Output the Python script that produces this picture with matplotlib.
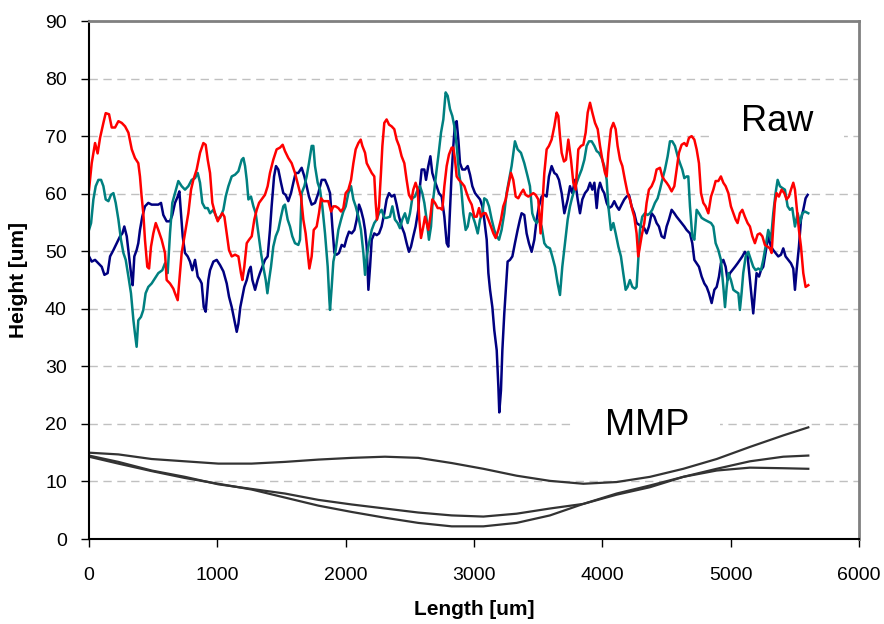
import matplotlib
matplotlib.use('Agg')
import matplotlib.pyplot as plt

# ---------------------------------------------------------------
# Raw surface profiles
# ---------------------------------------------------------------
red_x = [0, 21, 47, 67, 86, 112, 130, 156, 177, 203, 229, 255, 281, 307, 333, 358, 384, 397, 410,
         423, 436, 454, 468, 483, 501, 520, 540, 566, 592, 605, 631, 657, 670, 691, 709, 722, 748,
         774, 795, 813, 839, 865, 891, 909, 925, 943, 961, 982, 1003, 1021, 1039, 1055, 1073, 1091,
         1112, 1138, 1164, 1184, 1195, 1210, 1229, 1247, 1268, 1288, 1307, 1325, 1345, 1371, 1392,
         1410, 1436, 1462, 1488, 1509, 1527, 1553, 1579, 1605, 1631, 1652, 1670, 1688, 1704, 1717,
         1735, 1751, 1774, 1792, 1808, 1826, 1852, 1865, 1886, 1904, 1922, 1943, 1964, 1982, 2000,
         2021, 2042, 2060, 2078, 2099, 2117, 2130, 2151, 2164, 2182, 2203, 2223, 2234, 2244, 2260,
         2275, 2286, 2301, 2319, 2338, 2358, 2379, 2397, 2416, 2436, 2457, 2475, 2493, 2514, 2527,
         2545, 2561, 2574, 2587, 2605, 2618, 2631, 2644, 2660, 2675, 2696, 2717, 2735, 2753, 2769,
         2787, 2805, 2826, 2839, 2852, 2865, 2883, 2904, 2925, 2943, 2961, 2982, 3003, 3021, 3039,
         3054, 3073, 3091, 3112, 3132, 3151, 3169, 3190, 3210, 3228, 3247, 3267, 3288, 3306, 3325,
         3345, 3366, 3384, 3402, 3423, 3444, 3462, 3480, 3501, 3519, 3532, 3548, 3566, 3584, 3605,
         3626, 3644, 3657, 3670, 3683, 3701, 3717, 3735, 3756, 3774, 3792, 3813, 3834, 3852, 3870,
         3886, 3904, 3922, 3943, 3964, 3982, 4000, 4021, 4034, 4047, 4067, 4086, 4104, 4119, 4138,
         4156, 4176, 4197, 4215, 4234, 4249, 4267, 4280, 4293, 4306, 4327, 4345, 4363, 4384, 4405,
         4423, 4449, 4467, 4483, 4501, 4519, 4540, 4561, 4579, 4597, 4618, 4639, 4657, 4675, 4696,
         4717, 4735, 4753, 4769, 4787, 4805, 4826, 4847, 4865, 4883, 4904, 4924, 4943, 4961, 4982,
         5002, 5021, 5039, 5054, 5072, 5091, 5111, 5132, 5150, 5169, 5189, 5210, 5228, 5247, 5267,
         5288, 5306, 5319, 5332, 5345, 5358, 5376, 5397, 5418, 5436, 5454, 5470, 5488, 5501, 5514,
         5532, 5548, 5566, 5584, 5605]
red_y = [60.7, 65.3, 68.8, 67.0, 69.7, 72.3, 74.0, 73.8, 71.5, 71.5, 72.6, 72.3, 71.7, 70.6, 67.7,
         66.2, 65.3, 63.0, 59.5, 56.6, 52.0, 47.3, 47.0, 50.8, 53.1, 54.9, 53.7, 52.0, 49.7, 45.0,
         44.4, 43.5, 42.7, 41.5, 46.2, 49.7, 53.1, 56.6, 60.7, 62.4, 64.2, 67.1, 68.8, 68.5, 65.9,
         63.6, 58.4, 56.6, 55.2, 56.0, 56.6, 56.0, 53.1, 50.2, 49.1, 49.4, 49.1, 46.2, 45.0, 47.3,
         51.4, 52.0, 52.6, 55.5, 57.2, 58.4, 59.0, 59.8, 61.3, 63.6, 65.9, 67.7, 68.0, 68.5, 67.4,
         66.2, 65.3, 63.6, 61.3, 59.5, 55.5, 53.1, 49.7, 47.0, 49.1, 53.7, 54.3, 56.6, 59.2, 58.7,
         58.7, 58.7, 56.9, 57.8, 57.8, 57.5, 56.9, 57.5, 60.1, 60.7, 62.4, 65.3, 67.7, 68.8, 69.4,
         68.3, 67.1, 65.3, 64.5, 63.6, 63.0, 58.4, 55.5, 57.8, 63.6, 68.3, 72.3, 72.9, 72.0, 71.7,
         71.2, 69.4, 68.3, 66.5, 65.3, 62.4, 59.8, 59.0, 60.7, 61.9, 60.7, 55.5, 52.3, 54.3, 56.0,
         54.9, 53.7, 56.0, 59.0, 58.4, 57.5, 57.5, 57.2, 61.3, 64.8, 66.8, 68.0, 68.0, 65.9, 63.0,
         62.4, 61.9, 61.3, 60.1, 59.0, 58.1, 56.0, 56.0, 57.5, 56.0, 56.6, 56.6, 55.5, 54.3, 53.1,
         52.3, 53.7, 55.5, 57.8, 59.0, 61.3, 63.6, 62.4, 59.5, 59.2, 60.1, 60.7, 59.8, 59.5, 59.8,
         60.1, 59.8, 59.0, 53.1, 57.8, 63.6, 67.7, 68.3, 69.4, 71.7, 74.1, 73.5, 70.0, 67.1, 65.6,
         65.9, 69.4, 65.9, 61.9, 60.7, 67.7, 68.3, 68.5, 70.6, 74.1, 75.8, 74.1, 72.3, 71.2, 68.3,
         65.9, 63.6, 63.0, 67.1, 71.2, 72.3, 71.2, 68.3, 65.9, 64.8, 62.4, 60.1, 59.0, 57.2, 56.0,
         53.1, 49.1, 50.8, 52.6, 54.9, 58.4, 60.7, 61.3, 62.4, 64.2, 64.5, 63.0, 62.4, 61.9, 61.3,
         60.4, 61.3, 64.2, 67.1, 68.5, 68.8, 68.3, 69.7, 70.0, 69.4, 67.7, 65.3, 60.1, 58.4, 57.8,
         56.6, 59.5, 60.7, 62.2, 62.2, 63.0, 61.9, 61.3, 60.1, 57.8, 56.6, 55.5, 54.9, 56.6, 57.2,
         56.0, 54.9, 54.3, 52.6, 51.4, 52.9, 53.1, 52.6, 51.1, 50.8, 50.5, 49.7, 54.3, 58.4, 60.1,
         59.5, 60.7, 60.1, 59.0, 59.5, 60.7, 61.9, 60.7, 57.8, 53.7, 50.8, 46.2, 43.8, 44.1]

teal_x = [0, 16, 34, 52, 73, 94, 112, 130, 151, 171, 190, 208, 229, 249, 268, 286, 307, 327, 346,
          358, 371, 384, 405, 423, 441, 462, 488, 514, 540, 571, 592, 613, 631, 649, 670, 696, 722,
          748, 774, 800, 826, 847, 865, 883, 904, 925, 943, 969, 995, 1021, 1047, 1065, 1086, 1112,
          1138, 1164, 1190, 1203, 1216, 1229, 1242, 1262, 1281, 1299, 1320, 1340, 1358, 1377, 1390,
          1403, 1418, 1436, 1455, 1475, 1496, 1514, 1527, 1548, 1566, 1584, 1605, 1631, 1644, 1657,
          1678, 1696, 1714, 1735, 1748, 1761, 1782, 1800, 1818, 1839, 1860, 1873, 1878, 1891, 1904,
          1922, 1943, 1964, 1982, 2000, 2021, 2042, 2060, 2078, 2099, 2119, 2138, 2151, 2164, 2182,
          2203, 2223, 2242, 2260, 2280, 2301, 2319, 2345, 2364, 2384, 2405, 2423, 2441, 2462, 2483,
          2501, 2519, 2540, 2561, 2579, 2597, 2613, 2631, 2649, 2665, 2675, 2691, 2709, 2722, 2743,
          2761, 2779, 2795, 2813, 2831, 2847, 2865, 2883, 2899, 2917, 2935, 2951, 2969, 2987, 3008,
          3029, 3047, 3065, 3080, 3099, 3117, 3138, 3158, 3177, 3195, 3215, 3236, 3254, 3273, 3293,
          3319, 3340, 3366, 3392, 3418, 3436, 3454, 3470, 3488, 3506, 3527, 3548, 3566, 3592, 3610,
          3631, 3652, 3670, 3688, 3709, 3730, 3748, 3761, 3782, 3800, 3818, 3839, 3860, 3878, 3896,
          3917, 3938, 3956, 3974, 3995, 4015, 4034, 4047, 4067, 4086, 4104, 4125, 4145, 4163, 4182,
          4197, 4215, 4234, 4254, 4267, 4280, 4293, 4311, 4332, 4353, 4371, 4389, 4410, 4431, 4449,
          4467, 4488, 4509, 4527, 4545, 4566, 4587, 4605, 4623, 4639, 4657, 4670, 4683, 4701, 4717,
          4735, 4753, 4774, 4795, 4821, 4847, 4865, 4883, 4904, 4924, 4943, 4956, 4969, 4982, 5002,
          5021, 5039, 5060, 5072, 5085, 5098, 5117, 5137, 5158, 5176, 5195, 5215, 5236, 5254, 5272,
          5293, 5314, 5332, 5350, 5366, 5384, 5402, 5423, 5444, 5462, 5480, 5501, 5522, 5540, 5558,
          5579, 5605]
teal_y = [53.7, 54.9, 59.0, 61.3, 62.4, 62.4, 61.3, 59.0, 58.7, 59.8, 60.1, 58.4, 55.5, 52.0, 49.7,
          48.5, 45.6, 42.7, 38.0, 35.7, 33.4, 38.0, 38.6, 39.8, 42.7, 43.8, 44.4, 45.3, 46.2, 46.7,
          47.9, 46.2, 53.1, 58.4, 60.1, 62.2, 61.3, 60.7, 61.3, 62.4, 62.7, 63.6, 61.9, 58.4, 57.5,
          57.5, 56.6, 57.2, 55.8, 55.8, 57.2, 59.5, 61.3, 63.0, 63.3, 63.9, 65.9, 66.2, 64.8, 62.4,
          59.0, 59.5, 57.8, 56.6, 53.1, 49.7, 47.3, 45.0, 42.7, 45.0, 47.3, 50.8, 52.6, 53.7, 56.0,
          57.8, 58.1, 55.5, 54.3, 52.6, 51.4, 51.1, 52.0, 60.1, 61.3, 63.0, 65.3, 68.3, 68.3, 64.8,
          61.9, 60.7, 57.8, 53.1, 47.3, 41.5, 39.8, 43.8, 48.2, 50.2, 53.7, 55.5, 56.9, 57.8, 60.1,
          61.3, 59.0, 57.8, 56.0, 53.7, 49.7, 45.9, 49.1, 51.4, 53.7, 54.9, 55.5, 56.6, 57.2, 55.8,
          55.8, 56.0, 57.8, 55.5, 54.9, 54.0, 55.5, 56.6, 54.9, 56.6, 59.2, 59.5, 60.7, 61.3, 60.1,
          58.4, 55.5, 52.0, 54.3, 57.8, 60.7, 64.2, 66.5, 70.6, 72.9, 77.6, 77.0, 74.7, 73.5, 71.7,
          68.3, 63.6, 61.3, 56.6, 53.7, 54.3, 56.6, 56.3, 54.9, 53.1, 55.5, 56.6, 59.2, 58.9, 57.8,
          55.5, 53.7, 52.6, 52.0, 53.7, 56.6, 60.1, 62.4, 64.8, 69.1, 67.7, 67.1, 65.3, 63.0, 61.3,
          56.6, 55.5, 54.9, 55.5, 54.3, 51.4, 50.8, 50.5, 49.1, 47.3, 44.4, 42.4, 47.3, 51.4, 55.5,
          57.8, 59.0, 60.7, 61.9, 63.0, 64.2, 65.9, 68.3, 69.1, 69.1, 68.3, 67.4, 67.1, 66.2, 64.8,
          62.4, 57.8, 53.7, 54.9, 53.1, 50.8, 49.1, 46.2, 43.3, 43.8, 45.0, 43.8, 43.5, 43.8, 48.5,
          53.7, 56.0, 56.6, 56.3, 56.6, 57.2, 58.4, 59.2, 60.7, 62.4, 64.2, 66.5, 69.1, 69.1, 68.3,
          66.5, 65.3, 64.2, 62.7, 63.0, 63.0, 57.8, 52.6, 52.0, 57.2, 56.6, 55.8, 55.5, 55.2, 54.9,
          54.3, 51.4, 50.2, 48.5, 43.8, 40.3, 43.8, 46.2, 45.0, 43.3, 43.0, 42.7, 39.8, 42.7, 46.2,
          49.1, 49.9, 48.5, 47.3, 46.7, 47.0, 46.7, 48.5, 50.8, 53.7, 52.0, 56.6, 60.1, 62.4, 61.3,
          61.0, 60.7, 57.8, 57.2, 57.5, 54.3, 56.6, 54.9, 56.6, 56.9, 56.6]

navy_x = [0, 21, 47, 73, 99, 120, 145, 164, 190, 216, 242, 260, 275, 294, 312, 327, 340, 353, 371,
          384, 397, 415, 436, 462, 488, 514, 540, 561, 579, 605, 631, 649, 670, 691, 704, 717, 730,
          748, 769, 787, 805, 826, 847, 865, 878, 894, 909, 930, 943, 969, 995, 1021, 1047, 1073,
          1091, 1112, 1133, 1151, 1164, 1179, 1195, 1210, 1229, 1247, 1260, 1273, 1294, 1314, 1332,
          1351, 1371, 1392, 1410, 1423, 1442, 1457, 1475, 1496, 1514, 1532, 1553, 1574, 1592, 1610,
          1631, 1657, 1678, 1696, 1714, 1735, 1761, 1787, 1813, 1839, 1860, 1878, 1896, 1912, 1930,
          1948, 1969, 1990, 2008, 2026, 2047, 2068, 2086, 2104, 2119, 2138, 2151, 2164, 2177, 2190,
          2203, 2223, 2242, 2260, 2280, 2301, 2319, 2338, 2358, 2379, 2397, 2416, 2436, 2457, 2475,
          2493, 2509, 2527, 2545, 2566, 2579, 2592, 2613, 2626, 2644, 2660, 2675, 2691, 2709, 2727,
          2748, 2769, 2787, 2800, 2813, 2826, 2839, 2852, 2865, 2878, 2891, 2909, 2930, 2951, 2969,
          2987, 3008, 3029, 3047, 3065, 3080, 3099, 3112, 3125, 3143, 3158, 3177, 3190, 3197, 3210,
          3221, 3236, 3249, 3262, 3280, 3299, 3319, 3340, 3358, 3371, 3392, 3410, 3428, 3449, 3470,
          3488, 3506, 3527, 3548, 3566, 3584, 3605, 3626, 3644, 3662, 3683, 3704, 3730, 3748, 3766,
          3787, 3808, 3826, 3844, 3865, 3886, 3904, 3922, 3938, 3956, 3969, 3982, 4000, 4015, 4034,
          4052, 4073, 4093, 4112, 4130, 4150, 4171, 4189, 4208, 4228, 4249, 4267, 4286, 4306, 4327,
          4345, 4363, 4384, 4405, 4423, 4441, 4462, 4483, 4501, 4519, 4540, 4561, 4579, 4597, 4618,
          4639, 4657, 4683, 4701, 4717, 4735, 4753, 4774, 4795, 4813, 4831, 4852, 4873, 4891, 4909,
          4924, 4943, 4961, 4976, 4995, 5013, 5034, 5054, 5072, 5091, 5111, 5132, 5150, 5163, 5176,
          5189, 5202, 5221, 5236, 5254, 5272, 5293, 5314, 5332, 5350, 5371, 5392, 5410, 5428, 5449,
          5470, 5488, 5501, 5514, 5532, 5548, 5566, 5584, 5600]
navy_y = [49.1, 48.2, 48.5, 47.9, 47.3, 45.9, 46.2, 49.1, 50.2, 51.4, 52.6, 53.1, 54.3, 52.6, 49.1,
          46.2, 44.1, 49.1, 50.2, 51.4, 53.7, 56.0, 57.8, 58.4, 58.1, 58.1, 58.1, 58.4, 56.3, 55.2,
          55.2, 56.3, 58.4, 59.5, 60.4, 56.6, 52.6, 49.7, 49.1, 48.2, 46.7, 48.5, 45.6, 45.0, 44.4,
          40.3, 39.5, 45.0, 46.7, 48.2, 48.5, 47.6, 46.5, 44.4, 42.1, 40.3, 38.0, 36.0, 37.4, 40.3,
          42.1, 43.8, 45.0, 46.7, 47.3, 45.0, 43.3, 45.0, 46.2, 47.3, 48.5, 49.1, 53.7, 57.8, 63.0,
          64.8, 64.2, 61.9, 60.1, 59.8, 58.7, 60.1, 61.9, 63.6, 63.6, 64.5, 63.0, 61.3, 59.5, 58.1,
          58.4, 60.1, 62.4, 62.4, 61.3, 60.1, 54.3, 49.7, 49.4, 49.7, 51.1, 50.8, 52.3, 53.4, 53.1,
          53.7, 55.5, 58.1, 57.2, 55.5, 53.7, 50.8, 43.3, 47.3, 52.0, 53.1, 52.8, 53.1, 54.3, 56.6,
          59.0, 60.1, 59.5, 59.8, 58.1, 56.0, 54.3, 53.1, 51.4, 49.9, 50.8, 52.6, 54.3, 57.2, 61.3,
          64.2, 64.2, 62.4, 64.8, 66.5, 63.6, 62.4, 61.3, 60.1, 59.5, 56.0, 51.4, 50.8, 57.2, 63.6,
          68.3, 72.3, 72.6, 69.4, 65.3, 64.2, 64.2, 64.8, 63.3, 61.3, 60.1, 59.5, 59.0, 57.8, 55.5,
          52.0, 46.2, 43.3, 40.3, 36.3, 32.8, 26.4, 22.0, 25.8, 32.8, 39.2, 43.8, 48.2, 48.5, 49.1,
          51.4, 53.7, 55.5, 56.6, 56.3, 53.1, 51.4, 49.9, 52.0, 55.5, 57.8, 59.5, 59.8, 59.5, 63.0,
          64.8, 63.6, 63.3, 62.4, 60.1, 56.6, 59.0, 61.3, 60.1, 62.4, 59.0, 56.6, 59.0, 60.1, 60.7,
          61.9, 60.7, 61.9, 57.5, 60.7, 61.9, 60.7, 60.1, 58.4, 57.5, 57.8, 58.7, 57.8, 57.2, 58.1,
          59.0, 59.5, 59.8, 57.8, 56.6, 54.9, 54.6, 54.3, 54.0, 53.1, 54.3, 56.6, 56.0, 54.9, 54.3,
          52.6, 52.3, 54.3, 55.5, 57.2, 56.6, 56.0, 55.5, 54.9, 54.3, 53.7, 53.1, 51.4, 48.5, 47.9,
          47.3, 45.6, 44.4, 43.8, 42.7, 41.0, 43.3, 43.8, 45.6, 47.9, 48.5, 47.3, 45.0, 46.2, 46.7,
          47.3, 47.9, 48.5, 49.1, 49.9, 49.1, 45.0, 42.1, 39.2, 42.7, 46.2, 45.6, 46.7, 47.3, 49.7,
          52.6, 50.8, 50.2, 49.7, 49.1, 49.4, 50.5, 49.1, 48.5, 47.9, 47.0, 43.3, 46.7, 50.8, 55.5,
          57.2, 59.2, 59.8]

# ---------------------------------------------------------------
# MMP (smoothed) profiles
# ---------------------------------------------------------------
mmp_x = [0, 229, 488, 748, 1008, 1267, 1527, 1787, 2047, 2306, 2566, 2826, 3073, 3332, 3592,
         3852, 4111, 4371, 4631, 4891, 5150, 5410, 5605]
mmp_a = [15.0, 14.7, 13.9, 13.5, 13.1, 13.1, 13.4, 13.8, 14.1, 14.3, 14.1, 13.2, 12.2, 11.0, 10.1,
         9.6, 9.9, 10.8, 12.2, 13.9, 16.0, 18.0, 19.4]
mmp_b = [14.5, 13.4, 11.9, 10.8, 9.5, 8.7, 7.9, 6.8, 6.0, 5.3, 4.6, 4.1, 3.9, 4.4, 5.3, 6.1, 7.7,
         9.0, 10.8, 12.2, 13.5, 14.3, 14.5]
mmp_c = [14.3, 13.1, 11.8, 10.6, 9.6, 8.6, 7.2, 5.8, 4.7, 3.7, 2.8, 2.2, 2.2, 2.8, 4.1, 6.1, 7.9,
         9.3, 10.8, 11.9, 12.4, 12.3, 12.2]

x_ticks = [0, 1000, 2000, 3000, 4000, 5000, 6000]
y_ticks = [0, 10, 20, 30, 40, 50, 60, 70, 80, 90]

plt.rcParams['font.family'] = ['Liberation Sans', 'DejaVu Sans']

fig = plt.figure(figsize=(8.84, 6.24), dpi=100)
ax = fig.add_axes([0.1007, 0.1362, 0.871, 0.8301])

# raw lines
ax.plot(navy_x, navy_y, color='#000080', lw=1.8, zorder=2)
ax.plot(teal_x, teal_y, color='#008080', lw=1.8, zorder=2)
ax.plot(red_x, red_y, color='#ff0000', lw=1.8, zorder=2)

# smoothed lines
for yy in (mmp_a, mmp_b, mmp_c):
    ax.plot(mmp_x, yy, color='#333333', lw=1.6, zorder=2)

ax.set_xlim(0, 6000)
ax.set_ylim(0, 90)
ax.set_xticks(x_ticks)
ax.set_yticks(y_ticks)

ax.set_axisbelow(True)
ax.yaxis.grid(True, color='#c0c0c0', lw=1.0, linestyle=(0, (6, 4)))

for side in ('left', 'bottom'):
    ax.spines[side].set_color('black')
    ax.spines[side].set_linewidth(1.5)
for side in ('top', 'right'):
    ax.spines[side].set_color('#808080')
    ax.spines[side].set_linewidth(2)

ax.tick_params(axis='both', direction='out', length=6, width=1, labelsize=14, colors='black')
ax.tick_params(axis='y', pad=10)
ax.tick_params(axis='x', pad=14)

ax.set_xlabel('Length [um]', fontsize=15, fontweight='bold', labelpad=12)
ax.set_ylabel('Height [um]', fontsize=15, fontweight='bold', labelpad=12)

# labels with white background
box = dict(boxstyle='square,pad=0.3', facecolor='white', edgecolor='none')
ax.text(5361, 72.5, '  Raw  ', fontsize=26, ha='center', va='center', bbox=box, zorder=1)
ax.text(4348, 19.8, '  MMP  ', fontsize=26, ha='center', va='center', bbox=box, zorder=1)

fig.savefig('out.png', dpi=100)
